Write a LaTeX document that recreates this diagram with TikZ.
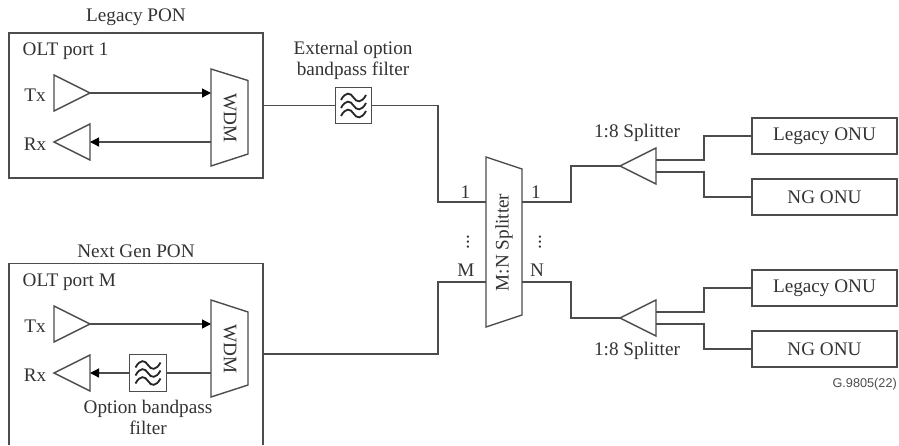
\documentclass[tikz,border=0pt]{standalone}
\usepackage{fontspec}
\setmainfont{Liberation Serif}
\newfontfamily\gfont{Liberation Sans}
\usetikzlibrary{arrows.meta}
\definecolor{ink}{gray}{0.3}
\definecolor{txt}{gray}{0.2}
\tikzset{
 lbl/.style={inner sep=0pt,text=txt,font=\fontsize{19.2}{21}\selectfont,align=center,yshift=-1.5pt},
 rlbl/.style={lbl,yshift=1.5pt},
 smalllbl/.style={inner sep=0pt,text=ink,font=\gfont\fontsize{12.7}{14}\selectfont},
 wire/.style={draw=ink,line width=1.3pt},
 arr/.style={wire,-{Triangle[length=9pt,width=9pt,color=black]}},
 boxs/.style={draw=ink,line width=1.4pt,fill=white},
 onubox/.style={boxs,rlbl,minimum width=145pt,minimum height=36pt},
 wav/.style={draw=black!85,line width=1.8pt},
 pics/filt/.style={code={
   \foreach \yy in {-8,0,8}{
     \draw[wav] (-12.5,\yy+2.5) .. controls (-8,\yy-6) and (-3,\yy-5) .. (0,\yy) .. controls (3,\yy+5) and (8,\yy+6) .. (12.5,\yy-2.5);}
 }}
}
\begin{document}
\begin{tikzpicture}[x=1pt,y=-1pt]
\useasboundingbox (0,0) rectangle (899,445);
% OLT 1
\node[lbl] (t1) at (136,15.5) {Legacy PON};
\path[boxs] (9,33) rectangle (263,178);
\node[lbl,anchor=west] (o1) at (22.5,50) {OLT port 1};
\node[lbl] (tx1) at (35,94) {Tx};
\node[lbl] (rx1) at (35,143) {Rx};
\path[boxs,fill=none] (54,75) -- (90,93) -- (54,111) -- cycle;
\path[boxs,fill=none] (90,124) -- (54,142) -- (90,160) -- cycle;
\path[boxs,fill=none] (211,69) -- (248,80.5) -- (248,154) -- (211,166) -- cycle;
\node[rlbl,rotate=-90] (w1) at (230,118) {WDM};
\coordinate (a1) at (90,93); \coordinate (b1) at (211,93);
\coordinate (a2) at (211,142); \coordinate (b2) at (90,142);
\draw[arr] (a1) -- (b1);
\draw[arr] (a2) -- (b2);
% external filter
\node[lbl] (ef) at (353,58.5) {External option\\bandpass filter};
\node[boxs,minimum size=36.5pt,inner sep=0pt] (f1) at (353.5,105.5) {};
\pic at (f1.center) {filt};
\coordinate (w1o) at (263,105.5);
\coordinate (s1) at (486,202);
\draw[wire] (w1o) -- (f1.west);
\draw[wire] (f1.east) -- (438,105.5) -- (438,202) -- (s1);
% OLT M
\node[lbl] (t2) at (136,249.5) {Next Gen PON};
\draw[draw=ink,line width=1.4pt] (9,445) -- (9,263.5) -- (263,263.5) -- (263,445);
\node[lbl,anchor=west] (o2) at (22.5,281) {OLT port M};
\node[lbl] (tx2) at (35,325) {Tx};
\node[lbl] (rx2) at (35,374) {Rx};
\path[boxs,fill=none] (54,306) -- (90,324) -- (54,342) -- cycle;
\path[boxs,fill=none] (90,355) -- (54,373) -- (90,391) -- cycle;
\path[boxs,fill=none] (211,300) -- (248,312) -- (248,385) -- (211,397) -- cycle;
\node[rlbl,rotate=-90] (w2) at (230,349) {WDM};
\coordinate (a3) at (90,324); \coordinate (b3) at (211,324);
\coordinate (a4) at (211,373); \coordinate (b4) at (90,373);
\node[boxs,minimum size=36.5pt,inner sep=0pt] (f2) at (148,373) {};
\pic at (f2.center) {filt};
\draw[arr] (a3) -- (b3);
\draw[wire] (a4) -- (f2.east);
\draw[arr] (f2.west) -- (b4);
\node[lbl] (of) at (148,416) {Option bandpass\\filter};
\coordinate (w2o) at (263,354);
\coordinate (s2) at (486,282);
\draw[wire] (w2o) -- (438,354) -- (438,282) -- (s2);
% M:N splitter
\path[boxs,fill=none] (486,157) -- (522,169) -- (522,315) -- (486,327) -- cycle;
\node[rlbl,rotate=90] (mn) at (504,242.5) {M:N Splitter};
\node[rlbl] (l1) at (465.5,192.5) {1};
\node[rlbl] (lm) at (466,270) {M};
\node[rlbl] (r1) at (536,192.5) {1};
\node[rlbl] (rn) at (537,270) {N};
\node[rlbl,rotate=90] (d1) at (468,242) {...};
\node[rlbl,rotate=90] (d2) at (540,242) {...};
% Upper 1:8
\node[lbl] (sp1) at (637,131.5) {1:8 Splitter};
\path[boxs,fill=none] (656,148) -- (620,166) -- (656,184) -- cycle;
\coordinate (u) at (620,166);
\coordinate (so1) at (522,202);
\draw[wire] (so1) -- (571,202) -- (571,166) -- (u);
\node[onubox] (lo1) at (824.5,136) {Legacy ONU};
\node[onubox] (ng1) at (824.5,197) {NG ONU};
\draw[wire] (656,160) -- (704,160) -- (704,136) -- (lo1.west);
\draw[wire] (656,172) -- (704,172) -- (704,197) -- (ng1.west);
% Lower 1:8
\node[lbl] (sp2) at (637,349.5) {1:8 Splitter};
\path[boxs,fill=none] (656,300) -- (620,318) -- (656,336) -- cycle;
\coordinate (v) at (620,318);
\coordinate (so2) at (522,282);
\draw[wire] (so2) -- (571,282) -- (571,318) -- (v);
\node[onubox] (lo2) at (824.5,288) {Legacy ONU};
\node[onubox] (ng2) at (824.5,349) {NG ONU};
\draw[wire] (656,312) -- (704,312) -- (704,288) -- (lo2.west);
\draw[wire] (656,324) -- (704,324) -- (704,349) -- (ng2.west);
\node[smalllbl,anchor=east] (g) at (897,384.5) {G.9805(22)};
\end{tikzpicture}
\end{document}
